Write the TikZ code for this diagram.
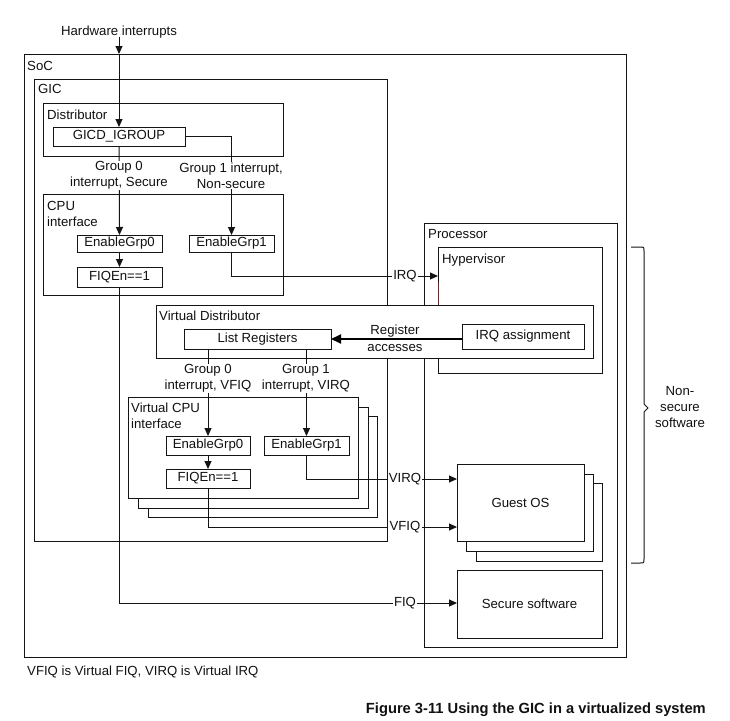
\documentclass[tikz,border=0pt]{standalone}
\usepackage{fontspec}
\setmainfont{Liberation Sans}
\usetikzlibrary{arrows.meta,calc}
\definecolor{ink}{HTML}{111111}
\definecolor{edge}{HTML}{141414}
\definecolor{hilite}{HTML}{8B1A1A}
\begin{document}
\begin{tikzpicture}[x=1pt,y=-1pt,
  font=\fontsize{13.2}{16}\selectfont, text=ink,
  ln/.style={line width=1pt, draw=edge},
  box/.style={ln, fill=white, inner sep=0pt, outer sep=0pt, anchor=north west},
  tag/.style={inner sep=0pt, anchor=base west},
  arr/.style={ln, -{Triangle[length=8pt,width=7pt]}},
  bigarr/.style={line width=2pt, draw=black, -{Triangle[length=10pt,width=9pt]}},
  wire/.style={ln},
  sig/.style={fill=white, inner sep=1pt},
  grp/.style={fill=white, inner sep=1pt, align=center},
]
\useasboundingbox (0,0) rectangle (730,720);

% --- SoC and GIC ---
\node[box, minimum width=602pt, minimum height=603pt] (soc) at (24,54) {};
\node[tag] at (27,70) {SoC};
\node[box, minimum width=353pt, minimum height=462pt] (gic) at (34,79) {};
\node[tag] at (38,93) {GIC};

% Distributor
\node[box, minimum width=240pt, minimum height=53pt] (dist) at (43,103) {};
\node[tag] at (47,119) {Distributor};
\node[box, minimum width=132pt, minimum height=19pt] (gicd) at (53,127) {GICD\_IGROUP};

% CPU interface
\node[box, minimum width=240pt, minimum height=101pt] (cpuif) at (43,194) {};
\node[tag] at (47,210) {CPU};
\node[tag] at (47,226) {interface};
\node[box, minimum width=85pt, minimum height=17pt] (eg0) at (77,235) {EnableGrp0};
\node[box, minimum width=85pt, minimum height=17pt] (eg1) at (189,235) {EnableGrp1};
\node[box, minimum width=85pt, minimum height=20pt] (fiq0) at (77,267) {FIQEn==1};

% --- Processor ---
\node[box, minimum width=193pt, minimum height=424pt] (proc) at (424,223) {};
\node[tag] at (428,238) {Processor};
\node[box, minimum width=164pt, minimum height=126pt] (hyp) at (438,247) {};
\node[tag] at (442,263) {Hypervisor};
\draw[line width=1pt, draw=hilite] (hyp.north west |- 0,282) -- (hyp.north west |- 0,305);

% Virtual distributor
\node[box, minimum width=437pt, minimum height=53pt] (vd) at (156,305) {};
\node[tag] at (159,320) {Virtual Distributor};
\node[box, minimum width=122pt, minimum height=25pt] (irqa) at (462,324) {IRQ assignment};
\node[box, minimum width=147pt, minimum height=20pt] (lr) at (184,329) {List Registers};

% Virtual CPU interfaces (stacked)
\node[box, minimum width=229pt, minimum height=101pt] (vcpu3) at (148,416) {};
\node[box, minimum width=230pt, minimum height=101pt] (vcpu2) at (138,407) {};
\node[box, minimum width=230pt, minimum height=101pt] (vcpu1) at (128,397) {};
\node[tag] at (131,412) {Virtual CPU};
\node[tag] at (131,428) {interface};
\node[box, minimum width=84pt, minimum height=19pt] (veg0) at (166,436) {EnableGrp0};
\node[box, minimum width=85pt, minimum height=19pt] (veg1) at (264,436) {EnableGrp1};
\node[box, minimum width=84pt, minimum height=19pt] (vfiq) at (166,469) {FIQEn==1};

% Guest OS (stacked) and secure software
\node[box, minimum width=126pt, minimum height=78pt] (gos3) at (476,483) {};
\node[box, minimum width=127pt, minimum height=77pt] (gos2) at (466,474) {};
\node[box, minimum width=127pt, minimum height=77pt] (gos1) at (457,464) {Guest OS};
\node[box, minimum width=145pt, minimum height=68pt] (sec) at (457,570) {Secure software};

% --- Signals ---
\node[anchor=base, inner sep=0pt] (hw) at (119,35) {Hardware interrupts};
\coordinate (socin) at (gicd.north |- soc.north);
\draw[arr] (hw.south) ++(0,-1) -- (socin);
\draw[arr] (socin) -- (gicd.north);

\draw[arr] (gicd.south) -- (eg0.north);
\draw[arr] (gicd.east) -| (eg1.north);
\draw[arr] (eg0.south) -- (fiq0.north);

\node[sig] (irq) at (405,276) {IRQ};
\draw[wire] (eg1.south) |- (irq.west);
\draw[arr] (irq.east) -- (irq.east -| hyp.west);

\node[sig] (fiq) at (405,603) {FIQ};
\draw[wire] (fiq0.south) |- (fiq.west);
\draw[arr] (fiq.east) -- (fiq.east -| sec.west);

\draw[bigarr] (irqa.west |- lr.east) -- (lr.east);
\node[anchor=base, inner sep=0pt] at (395,334) {Register};
\node[anchor=base, inner sep=0pt] at (395,351) {accesses};

\draw[arr] (veg0.north |- lr.south) -- (veg0.north);
\draw[arr] (veg1.north |- lr.south) -- (veg1.north);
\draw[arr] (veg0.south) -- (vfiq.north);

\node[sig] (virq) at (405,479) {VIRQ};
\draw[wire] (veg1.south) |- (virq.west);
\draw[arr] (virq.east) -- (virq.east -| gos1.west);

\node[sig] (vfiql) at (405,527) {VFIQ};
\draw[wire] (vfiq.south) |- (vfiql.west);
\draw[arr] (vfiql.east) -- (vfiql.east -| gos1.west);

% Group labels on the wires
\node[grp] at (119,175.5) {Group 0\\interrupt, Secure};
\node[grp] at (231,175.5) {Group 1 interrupt,\\Non-secure};
\node[grp] at (208,378.5) {Group 0\\interrupt, VFIQ};
\node[grp] at (306,378.5) {Group 1\\interrupt, VIRQ};

% Brace for non-secure software
\draw[ln] (631,247) -- (640,247) .. controls (644,247) .. (644,251)
  -- (644,404) -- (648,408) -- (644,412) -- (644,559)
  .. controls (644,563) .. (640,563) -- (631,563);
\node[align=center, inner sep=0pt] (nss) at (680,407) {Non-\\secure\\software};

% Notes
\node[tag] at (27,675) {VFIQ is Virtual FIQ, VIRQ is Virtual IRQ};
\node[anchor=base east, inner sep=0pt, font=\fontsize{14.7}{17}\selectfont\bfseries] at (706,713)
  {Figure 3-11 Using the GIC in a virtualized system};
\end{tikzpicture}
\end{document}
